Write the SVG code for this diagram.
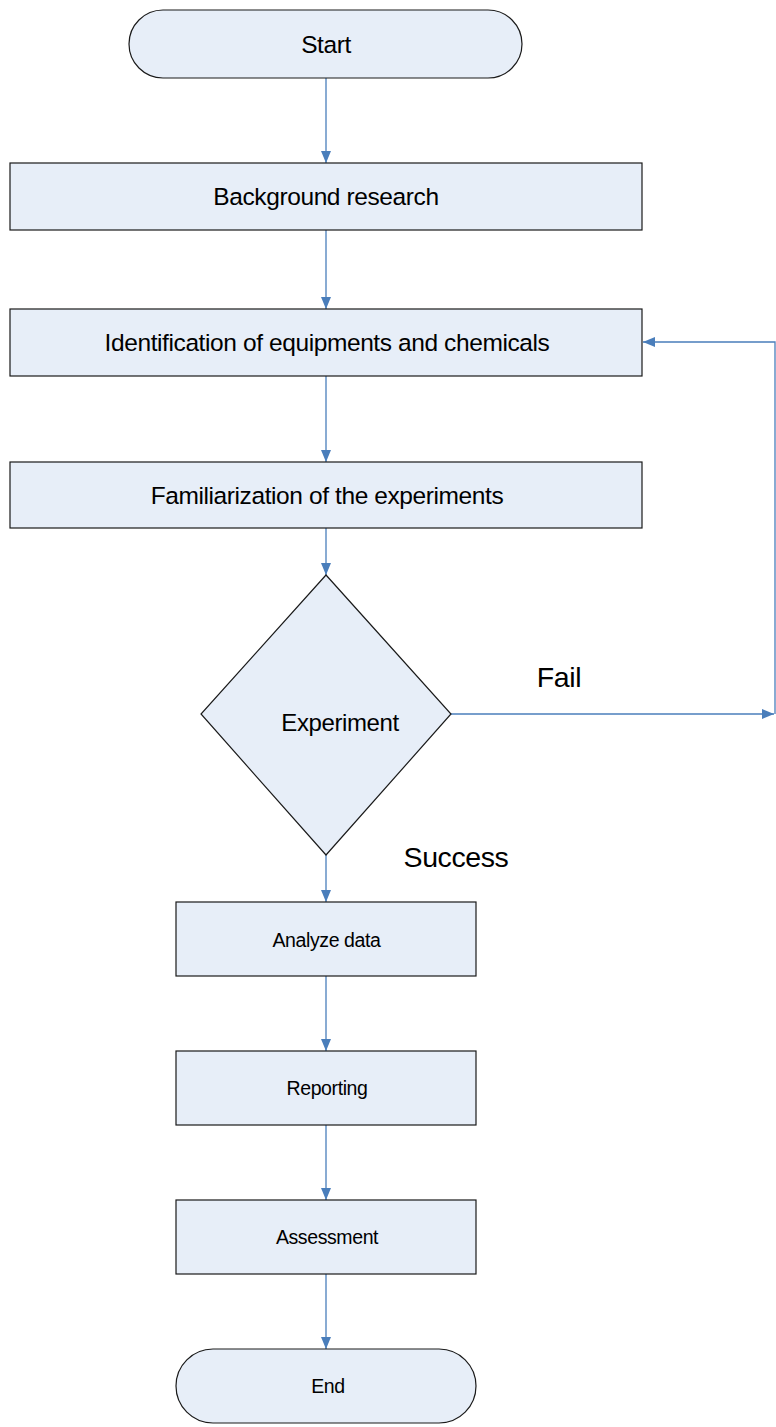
<svg xmlns="http://www.w3.org/2000/svg" width="776" height="1427" viewBox="0 0 776 1427">
<defs>
<style>
.n{fill:#E7EEF8;stroke:#1a1a1a;stroke-width:1.2}
.t{font-family:"Liberation Sans",Arial,sans-serif;fill:#000;text-anchor:middle;letter-spacing:-0.4px}
.c{fill:none;stroke:#4A7EBB;stroke-width:1.3}
</style>
<marker id="ah" viewBox="0 0 12 10" refX="12" refY="5" markerWidth="12" markerHeight="10" markerUnits="userSpaceOnUse" orient="auto">
<path d="M0,0 L12,5 L0,10 Z" fill="#4A7EBB"/>
</marker>
</defs>
<rect width="776" height="1427" fill="#fff"/>
<g id="connectors">
<path class="c" d="M326,78 V163" marker-end="url(#ah)"/>
<path class="c" d="M326,230 V309" marker-end="url(#ah)"/>
<path class="c" d="M326,376 V462" marker-end="url(#ah)"/>
<path class="c" d="M326,528 V575" marker-end="url(#ah)"/>
<path class="c" d="M451,714 H774" marker-end="url(#ah)"/>
<path class="c" d="M775,714 V342 H643" marker-end="url(#ah)"/>
<path class="c" d="M326,855 V902" marker-end="url(#ah)"/>
<path class="c" d="M326,976 V1051" marker-end="url(#ah)"/>
<path class="c" d="M326,1125 V1200" marker-end="url(#ah)"/>
<path class="c" d="M326,1274 V1349" marker-end="url(#ah)"/>
<text class="t" x="559" y="687" font-size="28.5">Fail</text>
<text class="t" x="456" y="867" font-size="28.5">Success</text>
</g>
<g id="start">
<rect class="n" x="129" y="10" width="393" height="68" rx="34"/>
<text class="t" x="326" y="52.5" font-size="24.5">Start</text>
</g>
<g id="background">
<rect class="n" x="10" y="163" width="632" height="67"/>
<text class="t" x="326" y="204.5" font-size="24.5">Background research</text>
</g>
<g id="identification">
<rect class="n" x="10" y="309" width="632" height="67"/>
<text class="t" x="327" y="350.5" font-size="24.5">Identification of equipments and chemicals</text>
</g>
<g id="familiarization">
<rect class="n" x="10" y="462" width="632" height="66"/>
<text class="t" x="327" y="503.5" font-size="24.5">Familiarization of the experiments</text>
</g>
<g id="experiment">
<polygon class="n" points="326,575 451,714 326,855 201,714"/>
<text class="t" x="340" y="730.5" font-size="24">Experiment</text>
</g>
<g id="analyze">
<rect class="n" x="176" y="902" width="300" height="74"/>
<text class="t" x="326.5" y="946.5" font-size="19.5">Analyze data</text>
</g>
<g id="reporting">
<rect class="n" x="176" y="1051" width="300" height="74"/>
<text class="t" x="327" y="1095" font-size="19.5">Reporting</text>
</g>
<g id="assessment">
<rect class="n" x="176" y="1200" width="300" height="74"/>
<text class="t" x="327" y="1244" font-size="19.5">Assessment</text>
</g>
<g id="end">
<rect class="n" x="176" y="1349" width="300" height="74" rx="37"/>
<text class="t" x="328" y="1393" font-size="19.5">End</text>
</g>
</svg>
